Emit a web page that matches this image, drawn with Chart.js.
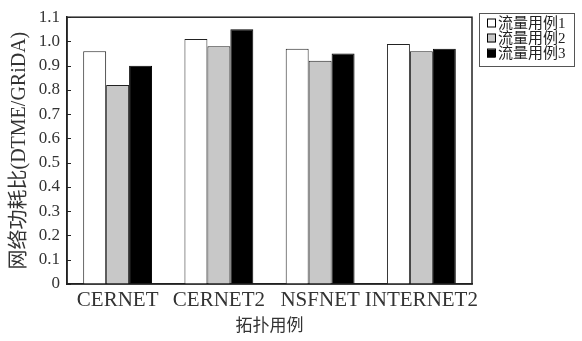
<!DOCTYPE html>
<html>
<head>
<meta charset="utf-8">
<script src="https://cdn.jsdelivr.net/npm/chart.js@4/dist/chart.umd.min.js"></script>
<style>
html,body{margin:0;padding:0;background:#fff;}
#wrap{width:582px;height:341px;}
</style>
</head>
<body>
<div id="wrap"><canvas id="powerChart" width="582" height="341"></canvas></div>
<script>
const categories = ["CERNET","CERNET2","NSFNET","INTERNET2"];
const seriesNames = ["流量用例1","流量用例2","流量用例3"];
const case1 = [0.96,1.01,0.97,0.99];
const case2 = [0.82,0.98,0.92,0.96];
const case3 = [0.90,1.05,0.95,0.97];
const yTicks = [0,0.1,0.2,0.3,0.4,0.5,0.6,0.7,0.8,0.9,1.0,1.1];

const FONT = "'Liberation Serif','Noto Sans CJK SC',serif";
const fills = ["#ffffff","#c8c8c8","#000000"];

/* -------- frame, inner ticks, legend -------- */

const framePlugin = {
id:"frame",
afterDraw(chart){
const c = chart.ctx;
const a = chart.chartArea;
const y = chart.scales.y;
c.save();
c.strokeStyle = "#222";
c.lineWidth = 1.5;
c.strokeRect(a.left, a.top, a.right-a.left, a.bottom-a.top);
c.lineWidth = 1;
yTicks.forEach(v=>{
const py = Math.round(y.getPixelForValue(v))+0.5;
c.beginPath();
c.moveTo(a.left, py);
c.lineTo(a.left+4, py);
c.stroke();
});

/* legend */
const lx = 479.5, ly = 13.5;
c.strokeStyle = "#555";
c.strokeRect(lx, ly, 95, 53);
c.font = "15px " + FONT;
c.textBaseline = "middle";
chart.data.datasets.forEach((ds,i)=>{
const cy = 23.5 + i*15;
c.fillStyle = ds.backgroundColor;
c.fillRect(487, cy-4, 8, 8);
c.strokeStyle = "#000";
c.strokeRect(487.5, cy-4.5, 8, 8);
c.fillStyle = "#222";
c.fillText(ds.label, 498, cy+0.5);
});
c.restore();
}
};

new Chart(document.getElementById("powerChart"),{
type:"bar",
data:{
labels:categories,
datasets:[
{label:seriesNames[0],data:case1,backgroundColor:fills[0],borderColor:"#222",borderWidth:1},
{label:seriesNames[1],data:case2,backgroundColor:fills[1],borderColor:"#222",borderWidth:1},
{label:seriesNames[2],data:case3,backgroundColor:fills[2],borderColor:"#000",borderWidth:1}
]
},
options:{
responsive:false,
animation:false,
devicePixelRatio:1,
layout:{padding:{top:13,right:110,left:0,bottom:0}},
categoryPercentage:0.68,
barPercentage:1.0,
plugins:{
legend:{display:false},
tooltip:{enabled:false}
},
scales:{
x:{
grid:{display:false,drawTicks:false},
border:{color:"#222",width:1.5},
ticks:{color:"#333",font:{family:FONT,size:21},padding:4,maxRotation:0,autoSkip:false},
title:{display:true,text:"拓扑用例",color:"#333",font:{family:FONT,size:17},padding:{top:0,bottom:4}},
afterFit(s){ s.height = 57; }
},
y:{
min:0,
max:1.1,
grid:{display:false,drawTicks:false},
border:{color:"#222",width:1.5},
afterBuildTicks(s){ s.ticks = yTicks.map(v=>({value:v})); },
ticks:{
color:"#333",
font:{family:FONT,size:17},
padding:7,
callback:function(v){ return v===0 ? "0" : Number(v).toFixed(1); }
},
title:{display:true,text:"网络功耗比(DTME/GRiDA)",color:"#333",font:{family:FONT,size:20},padding:{top:8,bottom:0}},
afterFit(s){ s.width = 67; }
}
}
},
plugins:[framePlugin]
});
</script>
</body>
</html>
